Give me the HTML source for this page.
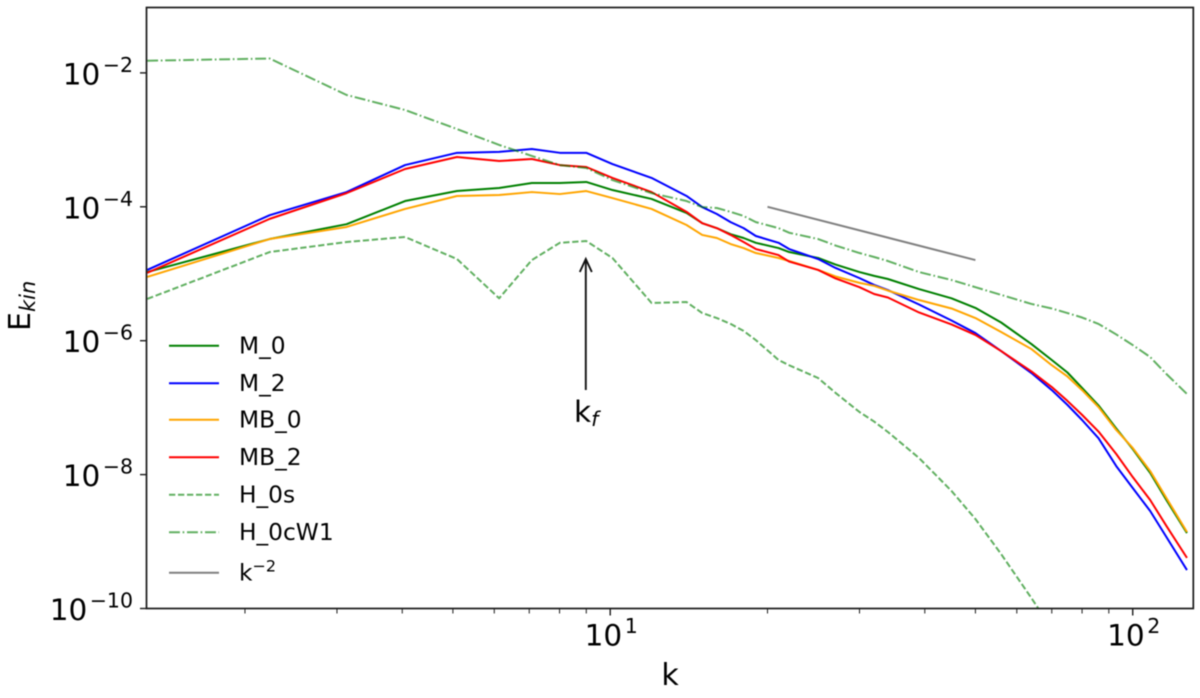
<!DOCTYPE html>
<html lang="en">
<head>
<meta charset="utf-8">
<title>Kinetic energy spectrum</title>
<style>
  html, body { margin: 0; padding: 0; background: #fff; }
  svg { display: block; filter: blur(0.5px); }
  text { font-family: "DejaVu Sans", "Liberation Sans", sans-serif; fill: #000; }
</style>
</head>
<body>
<svg id="chart" xmlns="http://www.w3.org/2000/svg" width="1200" height="698" viewBox="0 0 1200 698">
  <defs><clipPath id="plot-clip"><rect x="146.5" y="7.5" width="1046.8" height="601"></rect></clipPath></defs>
  <rect x="0" y="0" width="1200" height="698" fill="#fff"></rect>
  <g id="series-layer" clip-path="url(#plot-clip)"></g>
  <g id="ticks-layer"></g>
  <rect x="146.5" y="7.5" width="1046.8" height="601" fill="none" stroke="#1a1a1a" stroke-width="1.7"></rect>
  <g>
    <line x1="585.8" y1="390" x2="585.8" y2="260" stroke="#111" stroke-width="1.9"></line>
    <polyline points="579.8,272 585.8,259 591.8,272" fill="none" stroke="#111" stroke-width="1.9"></polyline>
    <text x="574" y="422" font-size="29.5">k<tspan font-size="20.5" font-style="italic" dy="4">f</tspan></text>
  </g>
  <text x="670" y="685" font-size="30" text-anchor="middle">k</text>
  <text transform="translate(30,331) rotate(-90)" font-size="30">E<tspan font-size="21" font-style="italic" dy="5">kin</tspan></text>
  <g id="legend-layer"></g>
</svg>
<script>
// Wavenumbers shared by the spectra
const kValues = [1.3, 2.23, 3.13, 4.05, 5.09, 6.13, 7.08, 8.01, 9, 10.1, 12, 14, 15, 16, 17, 18, 19, 21, 22, 25, 27, 30, 32, 34, 39, 45, 50, 56, 64, 70, 75, 80, 86, 93, 100, 108, 116, 127];

const m0Values = [1.06e-5, 3.3e-5, 5.5e-5, 1.22e-4, 1.72e-4, 1.91e-4, 2.27e-4, 2.27e-4, 2.35e-4, 1.78e-4, 1.31e-4, 8.1e-5, 5.7e-5, 4.8e-5, 3.9e-5, 3.42e-5, 2.9e-5, 2.42e-5, 2.11e-5, 1.72e-5, 1.37e-5, 1.06e-5, 9.3e-6, 8.35e-6, 5.9e-6, 4.3e-6, 3.09e-6, 1.87e-6, 8.9e-7, 5.15e-7, 3.35e-7, 1.97e-7, 1.08e-7, 4.88e-8, 2.41e-8, 1.06e-8, 4.17e-9, 1.34e-9];
const m2Values = [1.14e-5, 7.5e-5, 1.66e-4, 4.2e-4, 6.4e-4, 6.6e-4, 7.3e-4, 6.4e-4, 6.4e-4, 4.35e-4, 2.7e-4, 1.45e-4, 9.9e-5, 7.8e-5, 5.9e-5, 4.8e-5, 3.66e-5, 2.9e-5, 2.34e-5, 1.66e-5, 1.22e-5, 8.6e-6, 6.8e-6, 5.7e-6, 3.47e-6, 2.0e-6, 1.3e-6, 7.0e-7, 3.29e-7, 1.83e-7, 1.1e-7, 6.54e-8, 3.5e-8, 1.34e-8, 6.3e-9, 2.86e-9, 1.17e-9, 3.75e-10];
const mb0Values = [8.95e-6, 3.3e-5, 5.0e-5, 9.3e-5, 1.45e-4, 1.5e-4, 1.66e-4, 1.55e-4, 1.72e-4, 1.35e-4, 9.3e-5, 5.35e-5, 3.8e-5, 3.42e-5, 2.78e-5, 2.42e-5, 2.04e-5, 1.72e-5, 1.55e-5, 1.14e-5, 9.1e-6, 7.3e-6, 6.6e-6, 5.6e-6, 4.05e-6, 3.03e-6, 2.18e-6, 1.35e-6, 7.5e-7, 4.3e-7, 2.92e-7, 1.83e-7, 1.02e-7, 4.64e-8, 2.5e-8, 1.13e-8, 4.47e-9, 1.39e-9];
const mb2Values = [1.03e-5, 6.6e-5, 1.6e-4, 3.67e-4, 5.55e-4, 4.83e-4, 5.17e-4, 4.2e-4, 3.93e-4, 2.7e-4, 1.66e-4, 8.4e-5, 5.7e-5, 4.8e-5, 3.8e-5, 2.98e-5, 2.34e-5, 1.9e-5, 1.52e-5, 1.14e-5, 8.5e-6, 6.3e-6, 4.98e-6, 4.42e-6, 2.64e-6, 1.75e-6, 1.22e-6, 7.0e-7, 3.47e-7, 2.03e-7, 1.26e-7, 7.8e-8, 4.4e-8, 2.03e-8, 9.2e-9, 4.17e-9, 1.71e-9, 5.7e-10];
const h0sValues = [4.2e-6, 2.11e-5, 2.98e-5, 3.54e-5, 1.66e-5, 4.3e-6, 1.6e-5, 2.9e-5, 3.08e-5, 1.72e-5, 3.66e-6, 3.78e-6, 2.59e-6, 2.18e-6, 1.78e-6, 1.4e-6, 1.02e-6, 5.15e-7, 4.3e-7, 2.77e-7, 1.66e-7, 8.6e-8, 6.2e-8, 4.33e-8, 1.77e-8, 5.7e-9, 2.17e-9, 6.5e-10, 1.43e-10, 5e-11];
const h0cw1Values = [1.52e-2, 1.64e-2, 4.68e-3, 2.79e-3, 1.45e-3, 8.4e-4, 5.75e-4, 4.2e-4, 3.8e-4, 2.51e-4, 1.6e-4, 1.22e-4, 9.9e-5, 9.6e-5, 8.4e-5, 7.3e-5, 5.9e-5, 4.8e-5, 4.1e-5, 3.3e-5, 2.64e-5, 2.04e-5, 1.78e-5, 1.55e-5, 1.06e-5, 8.07e-6, 6.3e-6, 4.83e-6, 3.54e-6, 3.03e-6, 2.59e-6, 2.22e-6, 1.78e-6, 1.24e-6, 8.6e-7, 5.7e-7, 3.18e-7, 1.6e-7];
const refLineK = [20, 50];
const refLineValues = [1e-4, 1.6e-5];

// Tick values
const xMajorTicks = [10, 100];
const xMajorExponents = ["1", "2"];
const xMinorTicks = [2, 3, 4, 5, 6, 7, 8, 9, 20, 30, 40, 50, 60, 70, 80, 90];
const yTicks = [1e-2, 1e-4, 1e-6, 1e-8, 1e-10];
const yTickExponents = ["\u22122", "\u22124", "\u22126", "\u22128", "\u221210"];

// Axis limits and plot rectangle
const kMin = 1.296, kMax = 130.6, eMin = 1e-10, eMax = 9.48e-2;
const plotLeft = 146.5, plotRight = 1193.3, plotTop = 7.5, plotBottom = 608.5;

function xScale(k) {
  return plotLeft + (Math.log10(k) - Math.log10(kMin)) / (Math.log10(kMax) - Math.log10(kMin)) * (plotRight - plotLeft);
}
function yScale(e) {
  return plotBottom - (Math.log10(e) - Math.log10(eMin)) / (Math.log10(eMax) - Math.log10(eMin)) * (plotBottom - plotTop);
}

const SVG_NS = "http://www.w3.org/2000/svg";
const seriesLayer = document.getElementById("series-layer");
const ticksLayer = document.getElementById("ticks-layer");
const legendLayer = document.getElementById("legend-layer");

function lineOf(series, kArr, vals) {
  const el = document.createElementNS(SVG_NS, "polyline");
  const pts = vals.map(function (v, i) { return xScale(kArr[i]).toFixed(2) + "," + yScale(v).toFixed(2); });
  el.setAttribute("points", pts.join(" "));
  el.setAttribute("fill", "none");
  el.setAttribute("stroke", series.color);
  el.setAttribute("stroke-width", series.width);
  el.setAttribute("stroke-linejoin", "round");
  if (series.opacity) el.setAttribute("stroke-opacity", series.opacity);
  if (series.dash) el.setAttribute("stroke-dasharray", series.dash);
  return el;
}

const seriesList = [
  { key: "m-0", label: "M_0", color: "#008000", width: 2, kArr: kValues, vals: m0Values },
  { key: "m-2", label: "M_2", color: "#0000ff", width: 2, kArr: kValues, vals: m2Values },
  { key: "mb-0", label: "MB_0", color: "#ffa500", width: 2, kArr: kValues, vals: mb0Values },
  { key: "mb-2", label: "MB_2", color: "#ff0000", width: 2, kArr: kValues, vals: mb2Values },
  { key: "h-0s", label: "H_0s", color: "#008000", width: 2, opacity: 0.62, dash: "6.3 2.7", kArr: kValues, vals: h0sValues },
  { key: "h-0cw1", label: "H_0cW1", color: "#008000", width: 2, opacity: 0.62, dash: "10.9 2.7 1.7 2.7", kArr: kValues, vals: h0cw1Values },
  { key: "k-minus-2", label: "k", color: "#808080", width: 2, kArr: refLineK, vals: refLineValues }
];

seriesList.forEach(function (s) {
  const line = lineOf(s, s.kArr, s.vals);
  
  
  seriesLayer.appendChild(line);
});

function addTick(x1, y1, x2, y2, width, name) {
  const t = document.createElementNS(SVG_NS, "line");
  t.setAttribute("x1", x1);
  t.setAttribute("y1", y1);
  t.setAttribute("x2", x2);
  t.setAttribute("y2", y2);
  t.setAttribute("stroke", "#1a1a1a");
  t.setAttribute("stroke-width", width);
  
  
  ticksLayer.appendChild(t);
}

function addPowerLabel(x, y, anchor, exponent, name) {
  const t = document.createElementNS(SVG_NS, "text");
  t.setAttribute("x", x);
  t.setAttribute("y", y);
  t.setAttribute("text-anchor", anchor);
  t.setAttribute("font-size", "29.5");
  t.textContent = "10";
  const sup = document.createElementNS(SVG_NS, "tspan");
  sup.setAttribute("font-size", "20.5");
  sup.setAttribute("dy", "-12.5");
  sup.setAttribute("dx", "2.5");
  sup.textContent = exponent;
  t.appendChild(sup);
  
  
  ticksLayer.appendChild(t);
}

xMinorTicks.forEach(function (k) {
  const x = xScale(k);
  addTick(x, plotBottom, x, plotBottom + 5, 1, "x-minor-tick");
});
xMajorTicks.forEach(function (k, i) {
  const x = xScale(k);
  addTick(x, plotBottom, x, plotBottom + 7, 1.4, "x-major-tick");
  addPowerLabel(x + 1, 645.7, "middle", xMajorExponents[i], "x-tick-label");
});
yTicks.forEach(function (v, i) {
  const y = yScale(v);
  addTick(plotLeft - 6.5, y, plotLeft, y, 1.4, "y-major-tick");
  addPowerLabel(133, y + 11.5, "end", yTickExponents[i], "y-tick-label");
});

// Legend
const legendRowY = [345.7, 383.3, 419.8, 457.3, 494.8, 532.2, 572.7];
seriesList.forEach(function (s, i) {
  const y = legendRowY[i];
  const swatch = document.createElementNS(SVG_NS, "line");
  swatch.setAttribute("x1", 169);
  swatch.setAttribute("x2", 219);
  swatch.setAttribute("y1", y);
  swatch.setAttribute("y2", y);
  swatch.setAttribute("stroke", s.color);
  swatch.setAttribute("stroke-width", s.width);
  if (s.opacity) swatch.setAttribute("stroke-opacity", s.opacity);
  if (s.dash) swatch.setAttribute("stroke-dasharray", s.dash);
  
  
  legendLayer.appendChild(swatch);

  const label = document.createElementNS(SVG_NS, "text");
  label.setAttribute("x", 239);
  label.setAttribute("y", y + 7.8);
  label.setAttribute("font-size", "23.3");
  label.textContent = s.label;
  if (s.key === "k-minus-2") {
    const sup = document.createElementNS(SVG_NS, "tspan");
    sup.setAttribute("font-size", "16");
    sup.setAttribute("dy", "-9");
    sup.textContent = "\u22122";
    label.appendChild(sup);
  }
  
  
  legendLayer.appendChild(label);
});
</script>
</body>
</html>
